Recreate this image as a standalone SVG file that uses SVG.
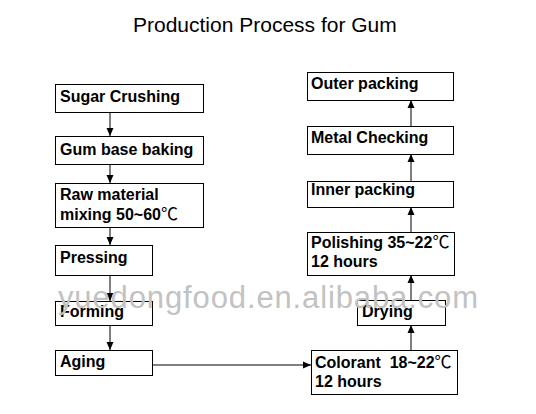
<svg xmlns="http://www.w3.org/2000/svg" width="536" height="414" viewBox="0 0 536 414">
<style>
.box{fill:#fff;stroke:#000;stroke-width:1}
.lbl{font-family:"Liberation Sans",Arial,sans-serif;font-size:16px;font-weight:bold;fill:#000}
.deg{font-family:"Noto Sans CJK SC","Noto Sans CJK JP",sans-serif;font-weight:normal;font-size:17px}
.title{font-family:"Liberation Sans",Arial,sans-serif;font-size:21px;fill:#000}
.con{stroke:#000;stroke-width:1;fill:none;marker-end:url(#ah)}
.wm{font-family:"Liberation Sans",Arial,sans-serif;font-size:31px;fill:#c2c2c2}
</style>
<defs>
<marker id="ah" viewBox="0 0 8 8" refX="8" refY="4" markerWidth="8" markerHeight="8" markerUnits="userSpaceOnUse" orient="auto">
<path d="M0,0.5 L8,4 L0,7.5 Z" fill="#000"/>
</marker>
</defs>
<rect width="536" height="414" fill="#fff"/>
<text class="title" x="133" y="32">Production Process for Gum</text>
<g id="connectors">
<line class="con" x1="110" y1="112" x2="110" y2="136"/>
<line class="con" x1="110" y1="164" x2="110" y2="183"/>
<line class="con" x1="110" y1="227" x2="110" y2="245"/>
<line class="con" x1="110" y1="275" x2="110" y2="301"/>
<line class="con" x1="110" y1="325" x2="110" y2="350"/>
<line class="con" x1="152" y1="365" x2="311" y2="365"/>
<line class="con" x1="411" y1="350" x2="411" y2="325"/>
<line class="con" x1="411" y1="300" x2="411" y2="275"/>
<line class="con" x1="411" y1="233" x2="411" y2="207"/>
<line class="con" x1="411" y1="181" x2="411" y2="154"/>
<line class="con" x1="411" y1="126" x2="411" y2="100"/>
</g>
<g id="sugar-crushing"><rect class="box" x="55.5" y="84.5" width="148" height="28"/><text class="lbl" x="60" y="102">Sugar Crushing</text></g>
<g id="gum-base-baking"><rect class="box" x="55.5" y="136.5" width="148" height="28"/><text class="lbl" x="60" y="155">Gum base baking</text></g>
<g id="raw-material"><rect class="box" x="55.5" y="183.5" width="148" height="44"/><text class="lbl" x="60" y="200">Raw material</text><text class="lbl" x="60" y="220">mixing 50~60<tspan class="deg">℃</tspan></text></g>
<g id="pressing"><rect class="box" x="55.5" y="245.5" width="97" height="30"/><text class="lbl" x="60" y="263">Pressing</text></g>
<g id="forming"><rect class="box" x="55.5" y="301.5" width="97" height="24"/><text class="lbl" x="60" y="317">Forming</text></g>
<g id="aging"><rect class="box" x="55.5" y="350.5" width="97" height="25"/><text class="lbl" x="60" y="367">Aging</text></g>
<g id="outer-packing"><rect class="box" x="307.5" y="72.5" width="146" height="28"/><text class="lbl" x="311" y="89">Outer packing</text></g>
<g id="metal-checking"><rect class="box" x="307.5" y="126.5" width="146" height="28"/><text class="lbl" x="311" y="143">Metal Checking</text></g>
<g id="inner-packing"><rect class="box" x="307.5" y="181.5" width="146" height="26"/><text class="lbl" x="311" y="195">Inner packing</text></g>
<g id="polishing"><rect class="box" x="307.5" y="232.5" width="147" height="43"/><text class="lbl" x="311" y="248">Polishing 35~22<tspan class="deg">℃</tspan></text><text class="lbl" x="311" y="267">12 hours</text></g>
<g id="drying"><rect class="box" x="357.5" y="300.5" width="88" height="25"/><text class="lbl" x="362" y="317">Drying</text></g>
<g id="colorant"><rect class="box" x="311.5" y="350.5" width="146" height="44"/><text class="lbl" x="315" y="368" xml:space="preserve">Colorant  18~22<tspan class="deg">℃</tspan></text><text class="lbl" x="315" y="387">12 hours</text></g>
<text class="wm" x="58" y="308" textLength="420" lengthAdjust="spacing">yuedongfood.en.alibaba.com</text>
</svg>
